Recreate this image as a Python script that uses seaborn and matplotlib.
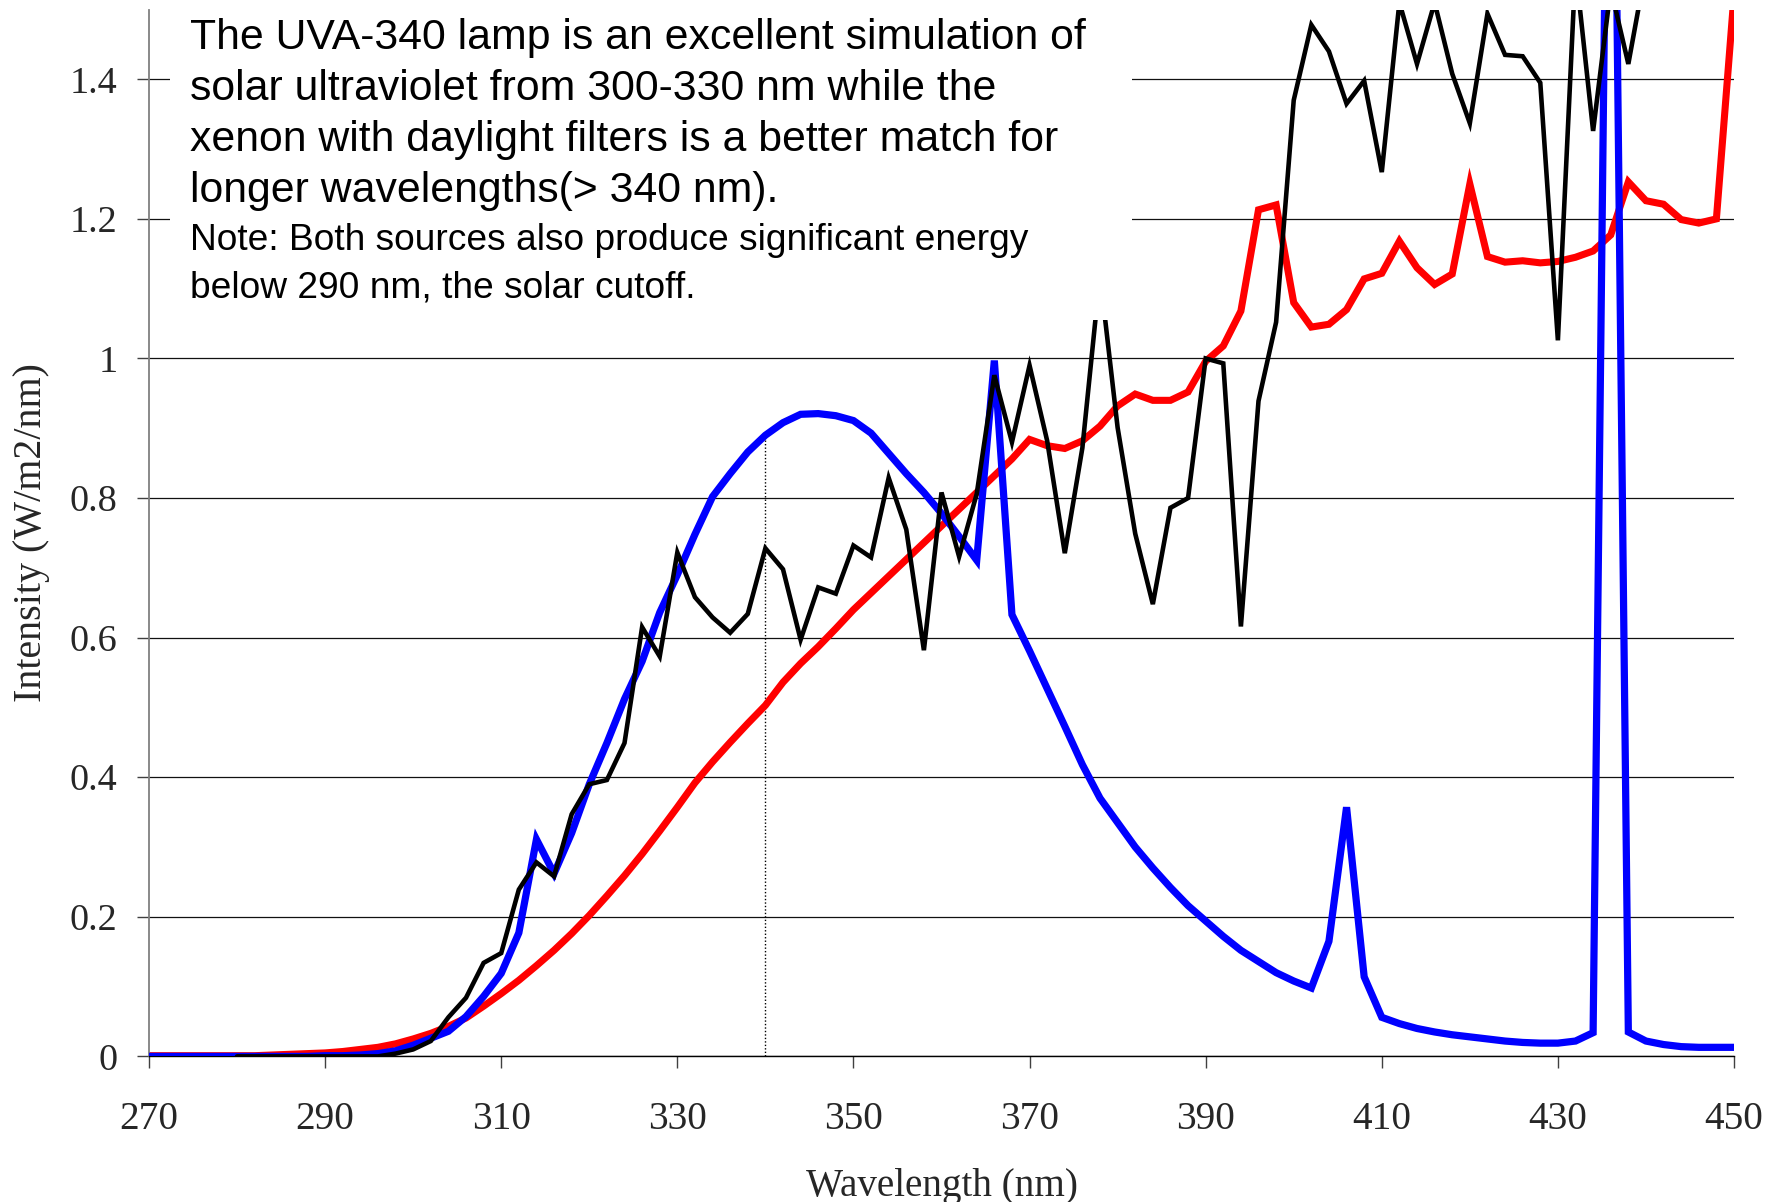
import numpy as np
import pandas as pd
import matplotlib
matplotlib.use("Agg")
import matplotlib.pyplot as plt
import seaborn as sns
from matplotlib.patches import Rectangle

# ---------------- data ----------------
wavelength = list(range(270, 452, 2))

uva340 = [0.0, 0.0, 0.0, 0.0, 0.0, 0.0, 0.0, 0.0, 0.0, 0.0,
          0.001, 0.001, 0.002, 0.004, 0.008, 0.016, 0.026, 0.036, 0.057, 0.086,
          0.119, 0.177, 0.311, 0.262, 0.320, 0.390, 0.449, 0.512, 0.566, 0.636,
          0.690, 0.748, 0.802, 0.835, 0.866, 0.890, 0.908, 0.920, 0.921, 0.918,
          0.911, 0.893, 0.864, 0.835, 0.808, 0.778, 0.745, 0.711, 0.997, 0.633,
          0.581, 0.527, 0.473, 0.418, 0.370, 0.335, 0.300, 0.270, 0.242, 0.216,
          0.194, 0.172, 0.152, 0.136, 0.120, 0.108, 0.098, 0.165, 0.357, 0.114,
          0.056, 0.047, 0.040, 0.035, 0.031, 0.028, 0.025, 0.022, 0.020, 0.019,
          0.019, 0.022, 0.034, 2.300, 0.035, 0.022, 0.017, 0.014, 0.013, 0.013,
          0.013]

xenon = [0.001, 0.001, 0.001, 0.001, 0.001, 0.001, 0.001, 0.002, 0.003, 0.004,
         0.005, 0.007, 0.010, 0.013, 0.018, 0.025, 0.033, 0.043, 0.055, 0.072,
         0.090, 0.109, 0.130, 0.152, 0.176, 0.202, 0.230, 0.259, 0.290, 0.323,
         0.357, 0.392, 0.422, 0.450, 0.477, 0.503, 0.536, 0.563, 0.587, 0.613,
         0.640, 0.664, 0.688, 0.712, 0.736, 0.760, 0.784, 0.808, 0.832, 0.856,
         0.884, 0.875, 0.871, 0.882, 0.903, 0.932, 0.949, 0.940, 0.940, 0.952,
         0.996, 1.018, 1.068, 1.213, 1.220, 1.080, 1.045, 1.049, 1.070, 1.114,
         1.122, 1.168, 1.130, 1.106, 1.121, 1.250, 1.146, 1.138, 1.140, 1.137,
         1.139, 1.145, 1.154, 1.177, 1.253, 1.226, 1.221, 1.199, 1.194, 1.200,
         1.520]

sun_wavelength = list(range(280, 452, 2))
sunlight = [0.0, 0.0, 0.0, 0.0, 0.0, 0.0, 0.0, 0.0, 0.0, 0.004,
            0.010, 0.022, 0.056, 0.084, 0.134, 0.148, 0.239, 0.278, 0.258, 0.347,
            0.390, 0.396, 0.449, 0.615, 0.573, 0.722, 0.658, 0.629, 0.607, 0.634,
            0.728, 0.698, 0.597, 0.672, 0.663, 0.732, 0.715, 0.829, 0.755, 0.582,
            0.808, 0.716, 0.806, 0.976, 0.880, 0.990, 0.882, 0.721, 0.872, 1.120,
            0.901, 0.749, 0.648, 0.786, 0.800, 1.000, 0.993, 0.616, 0.939, 1.052,
            1.370, 1.478, 1.440, 1.365, 1.398, 1.267, 1.510, 1.422, 1.510, 1.408,
            1.337, 1.494, 1.435, 1.433, 1.395, 1.026, 1.560, 1.326, 1.530, 1.422,
            1.560, 1.600, 1.620, 1.630, 1.650, 1.660]

x_ticks = [270, 290, 310, 330, 350, 370, 390, 410, 430, 450]
y_ticks = [0, 0.2, 0.4, 0.6, 0.8, 1.0, 1.2, 1.4]
y_tick_labels = ["0", "0.2", "0.4", "0.6", "0.8", "1", "1.2", "1.4"]
marker_wavelength = 340

text_main = ["The UVA-340 lamp is an excellent simulation of",
             "solar ultraviolet from 300-330 nm while the",
             "xenon with daylight filters is a better match for",
             "longer wavelengths(> 340 nm)."]
text_note = ["Note: Both sources also produce significant energy",
             "below 290 nm, the solar cutoff."]

# ---------------- plot ----------------
sns.set_style("white")
plt.rcParams["font.family"] = ["Liberation Serif", "DejaVu Serif"]

W, H = 1771, 1202
fig = plt.figure(figsize=(W / 100, H / 100), dpi=100)
ax_left, ax_right, ax_top, ax_bottom = 149, 1734, 9.5, 1056.4
ax = fig.add_axes([ax_left / W, 1 - ax_bottom / H,
                   (ax_right - ax_left) / W, (ax_bottom - ax_top) / H])

df = pd.DataFrame({"wl": wavelength, "uva": uva340, "xe": xenon})
df_sun = pd.DataFrame({"wl": sun_wavelength, "sun": sunlight})

sns.lineplot(data=df, x="wl", y="xe", ax=ax, color="#FF0000", linewidth=5.1,
             zorder=2, solid_joinstyle="miter")
sns.lineplot(data=df, x="wl", y="uva", ax=ax, color="#0000FF", linewidth=5.2,
             zorder=3, solid_joinstyle="miter")
sns.lineplot(data=df_sun, x="wl", y="sun", ax=ax, color="black", linewidth=3.3,
             zorder=4, solid_joinstyle="miter")

# dotted marker at 340 nm up to the UVA-340 curve
uva_at_marker = uva340[wavelength.index(marker_wavelength)]
ax.plot([marker_wavelength, marker_wavelength], [0, uva_at_marker],
        color="black", lw=1.0, ls=(0, (1, 1.5)), zorder=1.5)

ax.set_xlim(270, 450)
ax.set_ylim(0, 1.5)
ax.set_xticks(x_ticks)
ax.set_xticklabels([str(v) for v in x_ticks])
ax.set_yticks(y_ticks)
ax.set_yticklabels(y_tick_labels)

ax.yaxis.grid(True, color="#111111", lw=0.9)
ax.xaxis.grid(False)
ax.set_axisbelow(True)

for s in ["top", "right"]:
    ax.spines[s].set_visible(False)
ax.spines["left"].set_color("#808080")
ax.spines["left"].set_linewidth(1.3)
ax.spines["bottom"].set_color("black")
ax.spines["bottom"].set_linewidth(1.0)

ax.tick_params(axis="y", direction="out", length=8.6, width=1.0,
               color="#404040", labelsize=27.5, pad=14, left=True)
ax.tick_params(axis="x", direction="out", length=8.6, width=1.0,
               color="#404040", labelsize=28.4, pad=23.5, bottom=True)

ax.set_xlabel("Wavelength (nm)", fontsize=28.2, labelpad=21.5)
ax.set_ylabel("Intensity (W/m2/nm)", fontsize=28.8, labelpad=14)

# white text box (covers gridlines and curves below the annotation)
bx0 = (170 - ax_left) / (ax_right - ax_left)
bx1 = (1132 - ax_left) / (ax_right - ax_left)
by0 = (ax_bottom - 320) / (ax_bottom - ax_top)
ax.add_patch(Rectangle((bx0, by0), bx1 - bx0, 1 - by0, transform=ax.transAxes,
                       facecolor="white", edgecolor="none", zorder=5))

tx = 190.5 / W
for line, base in zip(text_main, [49.5, 100.3, 151.3, 201.7]):
    fig.text(tx, 1 - base / H, line, fontsize=30.8, va="baseline", ha="left",
             color="black", family=["Liberation Sans", "DejaVu Sans"], zorder=10)
for line, base in zip(text_note, [250.5, 297.5]):
    fig.text(tx, 1 - base / H, line, fontsize=26.7, va="baseline", ha="left",
             color="black", family=["Liberation Sans", "DejaVu Sans"], zorder=10)

fig.savefig("out.png", dpi=100)
